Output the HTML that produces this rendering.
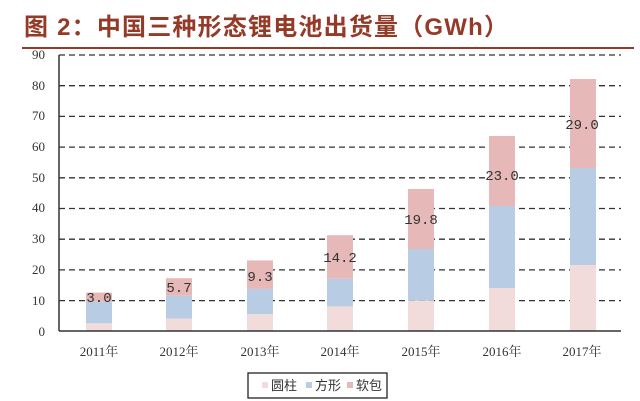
<!DOCTYPE html>
<html><head><meta charset="utf-8"><style>
body{margin:0;background:#fff;}
svg{display:block;}
</style></head><body>
<svg width="640" height="401" xmlns="http://www.w3.org/2000/svg">
<text x="24" y="35" font-family="'Liberation Sans','Noto Sans CJK SC',sans-serif" font-size="24" font-weight="bold" letter-spacing="1.2" fill="#963a28">图 2：中国三种形态锂电池出货量（GWh）</text>
<line x1="22" y1="48" x2="634" y2="48" stroke="#963a28" stroke-width="2"/>
<g stroke="#333" stroke-width="1.3" stroke-dasharray="6,4">
<line x1="59" y1="55" x2="621" y2="55"/>
<line x1="59" y1="85.7" x2="621" y2="85.7"/>
<line x1="59" y1="116.4" x2="621" y2="116.4"/>
<line x1="59" y1="147.1" x2="621" y2="147.1"/>
<line x1="59" y1="177.8" x2="621" y2="177.8"/>
<line x1="59" y1="208.5" x2="621" y2="208.5"/>
<line x1="59" y1="239.2" x2="621" y2="239.2"/>
<line x1="59" y1="269.9" x2="621" y2="269.9"/>
<line x1="59" y1="300.6" x2="621" y2="300.6"/>
</g>
<g font-family="'Liberation Serif',serif" font-size="13" fill="#333" text-anchor="end">
<text x="45" y="59">90</text><text x="45" y="90">80</text><text x="45" y="120">70</text><text x="45" y="151">60</text><text x="45" y="182">50</text><text x="45" y="212">40</text><text x="45" y="243">30</text><text x="45" y="274">20</text><text x="45" y="305">10</text><text x="45" y="336">0</text>
</g>
<g>
<rect x="86" y="323.3" width="26" height="7.7" fill="#f2dcdb"/><rect x="86" y="301.8" width="26" height="21.5" fill="#b8cce4"/><rect x="86" y="292.6" width="26" height="9.2" fill="#e6b9b8"/>
<rect x="166" y="318.7" width="26" height="12.3" fill="#f2dcdb"/><rect x="166" y="295.7" width="26" height="23" fill="#b8cce4"/><rect x="166" y="278.2" width="26" height="17.5" fill="#e6b9b8"/>
<rect x="247" y="314.1" width="26" height="16.9" fill="#f2dcdb"/><rect x="247" y="288.9" width="26" height="25.2" fill="#b8cce4"/><rect x="247" y="260.4" width="26" height="28.5" fill="#e6b9b8"/>
<rect x="327" y="306.4" width="26" height="24.6" fill="#f2dcdb"/><rect x="327" y="278.8" width="26" height="27.6" fill="#b8cce4"/><rect x="327" y="235.2" width="26" height="43.6" fill="#e6b9b8"/>
<rect x="408" y="300.7" width="26" height="30.3" fill="#f2dcdb"/><rect x="408" y="249" width="26" height="51.7" fill="#b8cce4"/><rect x="408" y="189" width="26" height="60" fill="#e6b9b8"/>
<rect x="489" y="288" width="26" height="43" fill="#f2dcdb"/><rect x="489" y="206" width="26" height="82" fill="#b8cce4"/><rect x="489" y="136" width="26" height="70" fill="#e6b9b8"/>
<rect x="570" y="265" width="26" height="66" fill="#f2dcdb"/><rect x="570" y="168" width="26" height="97" fill="#b8cce4"/><rect x="570" y="79" width="26" height="89" fill="#e6b9b8"/>
</g>
<g font-family="'Liberation Mono',monospace" font-size="14" fill="#333" text-anchor="middle">
<text x="99" y="302">3.0</text><text x="179" y="292">5.7</text><text x="260" y="281">9.3</text><text x="340" y="262">14.2</text><text x="421" y="224">19.8</text><text x="502" y="180">23.0</text><text x="582" y="129">29.0</text>
</g>
<line x1="59" y1="55" x2="59" y2="331" stroke="#333" stroke-width="1.5"/>
<line x1="59" y1="331" x2="621" y2="331" stroke="#333" stroke-width="1.5"/>
<g font-family="'Liberation Serif','Noto Serif CJK SC',serif" font-size="13" fill="#333" text-anchor="middle">
<text x="99" y="356">2011年</text><text x="179" y="356">2012年</text><text x="260" y="356">2013年</text><text x="340" y="356">2014年</text><text x="421" y="356">2015年</text><text x="502" y="356">2016年</text><text x="582" y="356">2017年</text>
</g>
<rect x="248" y="373" width="139" height="25" fill="#fff" stroke="#222" stroke-width="1.3"/>
<rect x="262" y="382" width="6" height="6" fill="#f2dcdb"/>
<rect x="306" y="382" width="6" height="6" fill="#b8cce4"/>
<rect x="347" y="382" width="6" height="6" fill="#e6b9b8"/>
<g font-family="'Liberation Sans','Noto Sans CJK SC',sans-serif" font-size="13" fill="#333">
<text x="271" y="390">圆柱</text><text x="315" y="390">方形</text><text x="356" y="390">软包</text>
</g>
</svg>
</body></html>
